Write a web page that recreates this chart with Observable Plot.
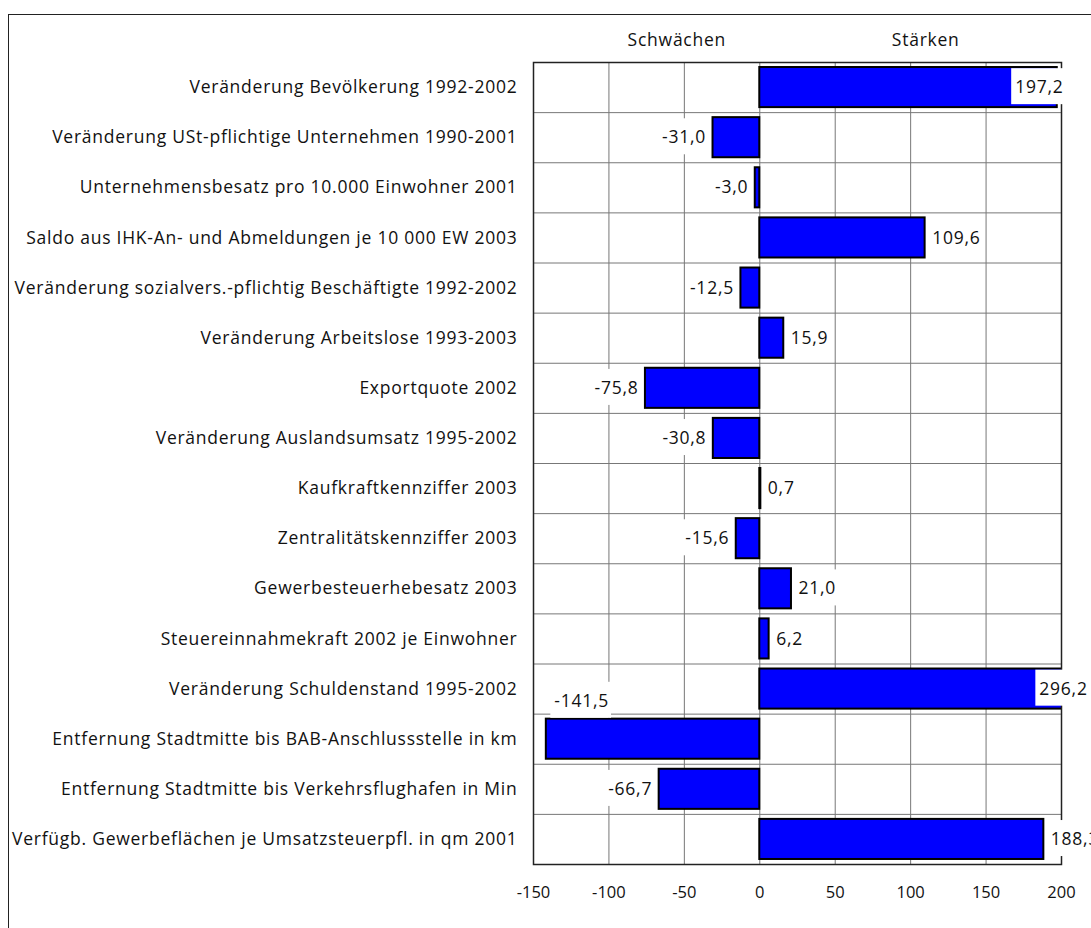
<!DOCTYPE html>
<html>
<head>
<meta charset="utf-8">
<script src="https://cdn.jsdelivr.net/npm/d3@7"></script>
<script src="https://cdn.jsdelivr.net/npm/@observablehq/plot@0.6"></script>
<style>
  html, body { margin: 0; padding: 0; background: white; overflow: hidden; }
  #wrap { position: relative; width: 1091px; height: 928px; }
  #border { position: absolute; left: 8px; top: 14px; width: 1200px; height: 1200px;
            border: 1.5px solid #222; pointer-events: none; box-sizing: border-box; }
  g.cat text, g.hdr text, g.vlabel text { letter-spacing: 0.75px; }
</style>
</head>
<body>
<div id="wrap"><div id="border"></div></div>
<script>
const categories = [
  "Veränderung Bevölkerung 1992-2002",
  "Veränderung USt-pflichtige Unternehmen 1990-2001",
  "Unternehmensbesatz pro 10.000 Einwohner 2001",
  "Saldo aus IHK-An- und Abmeldungen je 10 000 EW 2003",
  "Veränderung sozialvers.-pflichtig Beschäftigte 1992-2002",
  "Veränderung Arbeitslose 1993-2003",
  "Exportquote 2002",
  "Veränderung Auslandsumsatz 1995-2002",
  "Kaufkraftkennziffer 2003",
  "Zentralitätskennziffer 2003",
  "Gewerbesteuerhebesatz 2003",
  "Steuereinnahmekraft 2002 je Einwohner",
  "Veränderung Schuldenstand 1995-2002",
  "Entfernung Stadtmitte bis BAB-Anschlussstelle in km",
  "Entfernung Stadtmitte bis Verkehrsflughafen in Min",
  "Verfügb. Gewerbeflächen je Umsatzsteuerpfl. in qm 2001"
];
const values = [197.2, -31.0, -3.0, 109.6, -12.5, 15.9, -75.8, -30.8, 0.7, -15.6, 21.0, 6.2, 296.2, -141.5, -66.7, 188.3];
const xTicks = [-150, -100, -50, 0, 50, 100, 150, 200];
const headers = ["Schwächen", "Stärken"];
const headerPos = [-55, 110];

const xMin = -150, xMax = 200;
const data = categories.map((c, i) => ({c, i, v: values[i]}));
const fmt = v => v.toFixed(1).replace(".", ",");
const font = "'Open Sans', sans-serif";
const txt = 17.5;

const startL = data.filter(d => d.v >= 0 && d.v < 190);
const endR = data.filter(d => d.v >= 190 && d.v <= xMax);
const over = data.filter(d => d.v > xMax);
const negL = data.filter(d => d.v < 0 && d.v > -140);
const farNeg = data.filter(d => d.v <= -140);

const lab = {fill: "#111", fontSize: txt, className: "vlabel"};

const chart = Plot.plot({
  width: 1091,
  height: 928,
  marginLeft: 533,
  marginRight: 30,
  marginTop: 62,
  marginBottom: 64,
  style: {fontFamily: font, fontSize: "16.5px", background: "transparent", color: "#111"},
  x: {domain: [xMin, xMax], ticks: xTicks, tickFormat: d => String(d), tickSize: 0, tickPadding: 22, label: null},
  y: {domain: [0, categories.length], reverse: true, axis: null},
  marks: [
    Plot.ruleX(xTicks, {stroke: "#777", strokeWidth: 1}),
    Plot.ruleY(d3.range(categories.length + 1), {stroke: "#777", strokeWidth: 1}),
    Plot.rect(data, {x1: 0, x2: "v", y1: d => d.i + 0.1, y2: d => d.i + 0.9,
      fill: "#0000ff", stroke: "#000", strokeWidth: 2, clip: true}),
    Plot.frame({stroke: "#222", strokeWidth: 1.5}),
    Plot.text(data, {frameAnchor: "left", y: d => d.i + 0.5, text: "c", textAnchor: "end", dx: -16,
      fill: "#111", fontSize: txt, className: "cat"}),
    Plot.text(headers, {x: (d, i) => headerPos[i], y: 0, text: d => d, dy: -22,
      fill: "#111", fontSize: txt, className: "hdr"}),
    Plot.text(startL, {...lab, x: "v", y: d => d.i + 0.5, text: d => fmt(d.v), textAnchor: "start", dx: 7}),
    Plot.text(endR, {...lab, x: xMax, y: d => d.i + 0.5, text: d => fmt(d.v), textAnchor: "end", dx: 2}),
    Plot.text(over, {...lab, x: xMax, y: d => d.i + 0.5, text: d => fmt(d.v), textAnchor: "middle", dx: 2}),
    Plot.text(negL, {...lab, x: "v", y: d => d.i + 0.5, text: d => fmt(d.v), textAnchor: "end", dx: -7}),
    Plot.text(farNeg, {...lab, x: "v", y: d => d.i + 0.5, text: d => fmt(d.v), textAnchor: "start", dx: 8, dy: -38})
  ]
});
const wrap = document.getElementById("wrap");
wrap.insertBefore(chart, wrap.firstChild);

// white boxes behind value labels
document.querySelectorAll("g.vlabel text").forEach(t => {
  const bb = t.getBBox();
  const r = document.createElementNS("http://www.w3.org/2000/svg", "rect");
  const cy = bb.y + bb.height / 2;
  r.setAttribute("x", bb.x - 4);
  r.setAttribute("y", cy - 18);
  r.setAttribute("width", bb.width + 6);
  r.setAttribute("height", 36);
  r.setAttribute("fill", "white");
  const tr = t.getAttribute("transform");
  if (tr) r.setAttribute("transform", tr);
  t.parentNode.insertBefore(r, t);
});
</script>
</body>
</html>
